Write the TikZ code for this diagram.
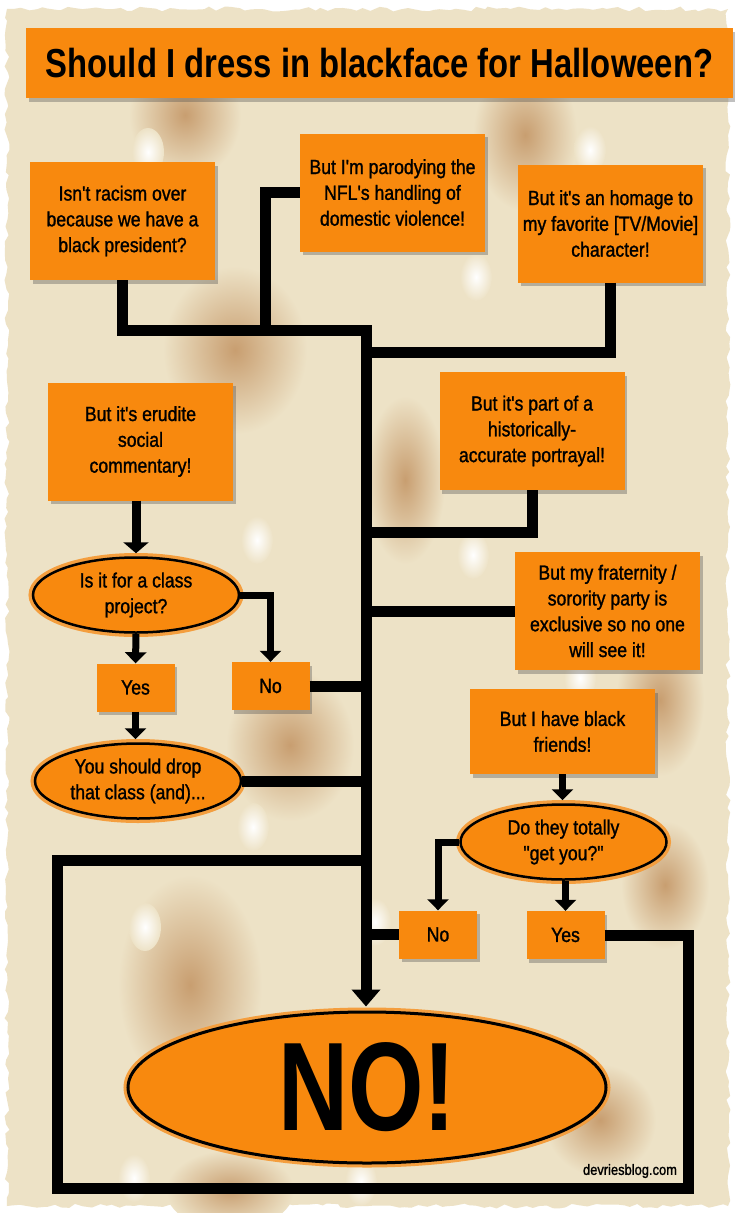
\documentclass[tikz,border=0pt]{standalone}
\usepackage{fontspec}
\setmainfont{Liberation Sans}
\newfontfamily\bodyfont{Liberation Sans}[FakeStretch=0.86,FakeBold=1.2]
\newfontfamily\headfont{Liberation Sans}[FakeStretch=0.81]
\newfontfamily\nofont{Liberation Sans}[FakeStretch=0.77]
\usetikzlibrary{shapes.geometric,arrows.meta,shadows,decorations.pathmorphing}
\definecolor{orng}{RGB}{248,137,14}
\definecolor{ringc}{RGB}{244,158,62}
\definecolor{paper}{RGB}{237,226,198}
\definecolor{stainc}{RGB}{200,158,112}
\newcommand\stainblot[4]{%
  \shade[inner color=stainc,outer color=paper] (#1,#2) ellipse ({2*#3} and {2*#4});}
\newcommand\whitedot[2]{%
  \shade[inner color=white,outer color=paper] (#1,#2) ellipse (16 and 24);}
\tikzset{
  bodytext/.style={font=\bodyfont\fontsize{20.5}{25.8}\selectfont},
  dshadow/.style={drop shadow={shadow xshift=2.5pt,shadow yshift=-3.5pt,opacity=0.35,fill=black!70}},
  box/.style={dshadow,fill=orng,inner sep=0pt,minimum width=185pt,minimum height=118pt,align=center,bodytext},
  small/.style={dshadow,fill=orng,inner sep=0pt,minimum width=78pt,minimum height=48pt,align=center,bodytext},
  ell/.style={ellipse,dshadow,preaction={draw=ringc,line width=9pt},draw=black,line width=2.5pt,fill=orng,
    inner sep=0pt,minimum width=206pt,minimum height=75pt,align=center,bodytext},
  thickline/.style={line width=11pt,line join=miter,draw=black},
  thinarrow/.style={line width=7pt,line join=miter,draw=black,-{Triangle[width=21pt,length=11pt]}},
}
\begin{document}
\begin{tikzpicture}[x=1pt,y=-1pt]
\useasboundingbox (0,0) rectangle (735,1213);
\fill[white] (0,0) rectangle (735,1213);
\fill[paper,decorate,decoration={random steps,segment length=7pt,amplitude=2.5pt}] (7,9) rectangle (728,1206);
% stains
\stainblot{185}{115}{28}{32}
\stainblot{525}{135}{26}{38}
\stainblot{235}{350}{36}{42}
\stainblot{405}{480}{20}{42}
\stainblot{290}{745}{32}{38}
\stainblot{660}{700}{22}{38}
\stainblot{665}{885}{22}{32}
\stainblot{190}{985}{36}{55}
\stainblot{230}{1190}{32}{20}
\stainblot{600}{1120}{28}{28}
% white dots
\whitedot{148}{152}
\whitedot{590}{150}
\whitedot{476}{277}
\whitedot{257}{540}
\whitedot{473}{555}
\whitedot{253}{827}
\whitedot{145}{927}
\whitedot{375}{922}
\whitedot{134}{1178}
\whitedot{361}{1182}
\whitedot{580}{678}

% title
\node[dshadow,fill=orng,minimum width=707pt,minimum height=70pt,inner sep=0pt,
  font=\headfont\bfseries\fontsize{40.5}{45}\selectfont] (T) at (379.5,63) {Should I dress in blackface for Halloween?};

% boxes
\node[box] (A) at (122.5,221) {Isn't racism over\\because we have a\\black president?};
\node[box] (B) at (392.5,192.5) {But I'm parodying the\\NFL's handling of\\domestic violence!};
\node[box] (C) at (610.5,223.5) {But it's an homage to\\my favorite [TV/Movie]\\character!};
\node[box] (D) at (140.5,441.5) {But it's erudite\\social\\commentary!};
\node[box] (F) at (532,431) {But it's part of a\\historically-\\accurate portrayal!};
\node[box] (G) at (607.5,611) {But my fraternity /\\sorority party is\\exclusive so no one\\will see it!};
\node[box,minimum height=85pt] (H) at (562.5,731.5) {But I have black\\friends!};
\node[ell] (E1) at (136,595) {Is it for a class\\project?};
\node[small] (Y1) at (135.5,687.5) {Yes};
\node[small] (N1) at (270.5,686) {No};
\node[ell] (E2) at (138,781) {You should drop\\that class (and)...};
\node[ell] (E3) at (563.5,842) {Do they totally\\"get you?"};
\node[small] (N2) at (438,934.5) {No};
\node[small] (Y2) at (565.5,935) {Yes};
\node[ellipse,dshadow,preaction={draw=ringc,line width=9pt},draw=black,line width=3pt,fill=orng,
  inner sep=0pt,minimum width=478pt,minimum height=151pt,
  font=\nofont\bfseries\fontsize{126}{126}\selectfont] (NO) at (367,1087.5) {NO!};
\node[font=\bodyfont\fontsize{15}{15}\selectfont] (blog) at (630,1171) {devriesblog.com};

% trunk and branches
\coordinate (t0) at (366,330);
\draw[thickline,-{Triangle[width=28pt,length=17pt]},shorten >=4pt] (A.south) |- (t0) -- (t0 |- NO.north);
\draw[thickline] (B.west) -- (265,192.5) -- (265,330);
\draw[thickline] (C.south) |- (366,352);
\draw[thickline] (F.south) |- (366,532);
\draw[thickline] (G.west) -- (366,611);
\draw[thickline] (N1.east) -- (366,686);
\draw[thickline] (E2.east) -- (366,781);
\draw[thickline] (N2.west) -- (366,934.5);
\draw[thickline] (Y2.east) -- (688,935) -- (688,1188) -- (57,1188) -- (57,860) -- (366,860);

% thin arrows
\draw[thinarrow,line width=9pt,-{Triangle[width=25pt,length=11pt]},shorten >=3pt] (E1.north |- D.south) -- (E1.north);
\draw[thinarrow] (E1.south) -- (Y1.north);
\draw[thinarrow] (E1.east) -| (N1.north);
\draw[thinarrow,shorten >=3pt] (Y1.south) -- (Y1.south |- E2.north);
\draw[thinarrow,shorten >=3pt] (H.south) -- (H.south |- E3.north);
\draw[thinarrow] (E3.west) -| (N2.north);
\draw[thinarrow] (Y2.north |- E3.south) -- (Y2.north);
\end{tikzpicture}
\end{document}
